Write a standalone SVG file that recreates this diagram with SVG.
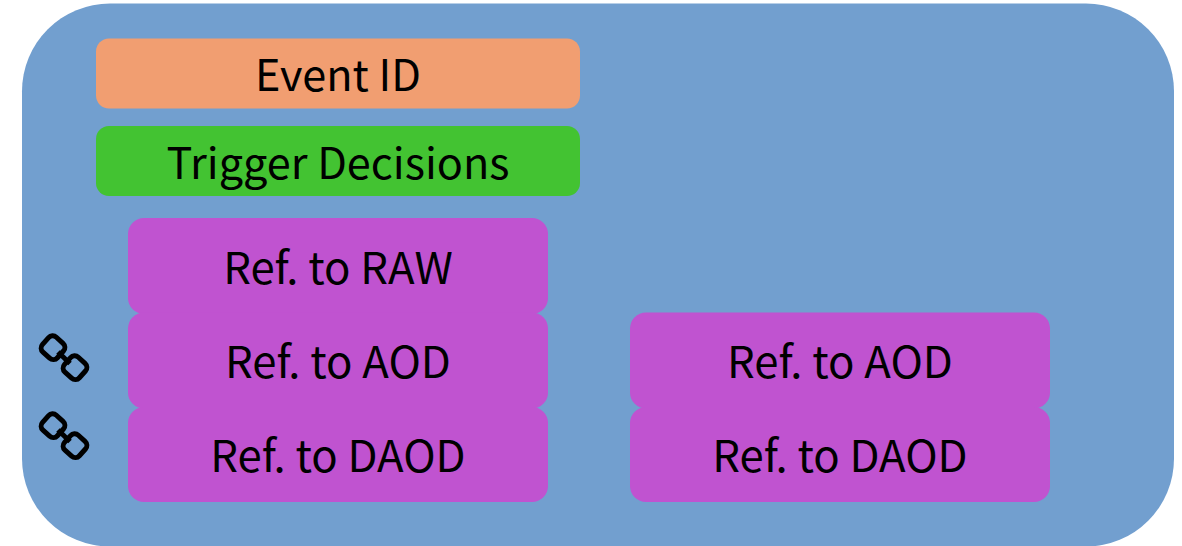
<svg xmlns="http://www.w3.org/2000/svg" width="1182" height="546" viewBox="0 0 1182 546">
<style>
text{font-family:"Noto Sans CJK SC","Noto Sans",sans-serif;font-size:43.700px;fill:#000;text-anchor:middle}
text.t{font-size:43.200px}
.p{fill:#c053d0}
.link{fill:none;stroke:#000;stroke-width:5}
</style>
<defs>
<g id="chain" class="link">
<rect x="-10" y="-10" width="20" height="20" rx="5.500" transform="translate(53 347.700) rotate(42)"/>
<rect x="-10" y="-10" width="20" height="20" rx="5.500" transform="translate(75 367.700) rotate(42)"/>
<path d="M58 352L70 363.500"/>
</g>
</defs>
<rect width="1182" height="546" fill="#fff"/>
<g id="container"><rect x="22" y="3.500" width="1152" height="543" rx="88" fill="#729fcf"/></g>
<g id="event-id"><rect x="96" y="38.500" width="484" height="70" rx="13" fill="#f19e71"/><text class="t" x="338" y="90.500">Event ID</text></g>
<g id="trigger"><rect x="96" y="126" width="484" height="70" rx="13" fill="#43c332"/><text class="t" x="338" y="178.500">Trigger Decisions</text></g>
<g id="raw"><rect class="p" x="128" y="218" width="420" height="96" rx="16"/><text x="338" y="284">Ref. to RAW</text></g>
<g id="aod-l"><rect class="p" x="128" y="312.500" width="420" height="96" rx="16"/><text x="338" y="378">Ref. to AOD</text></g>
<g id="daod-l"><rect class="p" x="128" y="407" width="420" height="95" rx="16"/><text x="338" y="472">Ref. to DAOD</text></g>
<g id="aod-r"><rect class="p" x="630" y="312.500" width="420" height="96" rx="16"/><text x="840" y="378">Ref. to AOD</text></g>
<g id="daod-r"><rect class="p" x="630" y="407" width="420" height="95" rx="16"/><text x="840" y="472">Ref. to DAOD</text></g>
<g id="link-1"><use href="#chain"/></g>
<g id="link-2"><use href="#chain" y="78"/></g>
<g id="connectors"/>
</svg>
